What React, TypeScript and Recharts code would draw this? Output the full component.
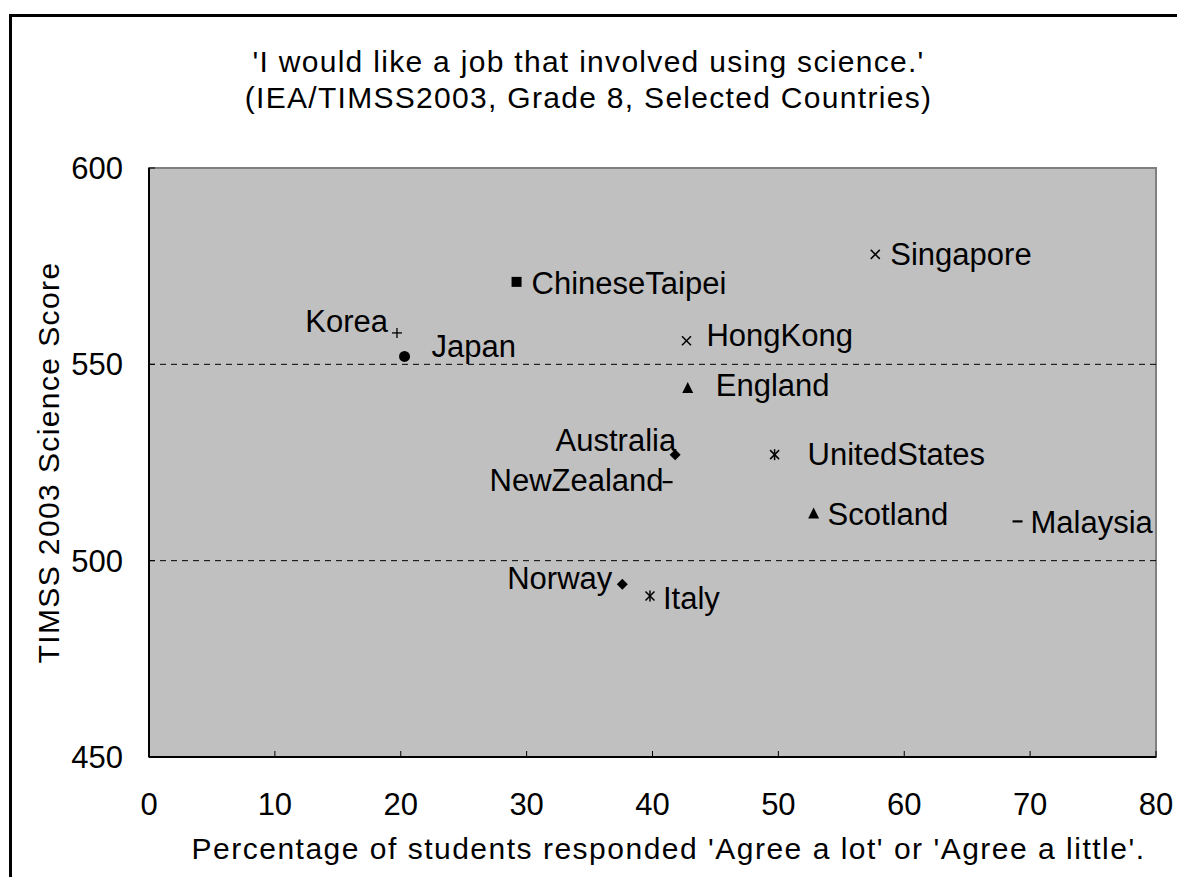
import { Label, ReferenceArea, ReferenceLine, Scatter, ScatterChart, XAxis, YAxis } from "recharts";

const FONT = "'Liberation Sans', Arial, sans-serif";

// TIMSS 2003, grade 8
const countries = [
  "Korea", "Japan", "ChineseTaipei", "HongKong", "England", "Singapore", "Australia",
  "NewZealand", "UnitedStates", "Scotland", "Malaysia", "Norway", "Italy",
];
const agreePct = [19.7, 20.3, 29.2, 42.7, 42.8, 57.7, 41.8, 41.2, 49.7, 52.8, 69.0, 37.6, 39.8];
const scienceScore = [558, 552, 571, 556, 544, 578, 527, 520, 527, 512, 510, 494, 491];
const markers = [
  "plus", "circle", "square", "cross", "triangle", "cross", "diamond",
  "dash", "star", "triangle", "dash", "diamond", "star",
];

const xTicks = [0, 10, 20, 30, 40, 50, 60, 70, 80];
const yTicks = [450, 500, 550, 600];
const gridValues = [500, 550];

// label placement relative to the marker: anchor side, dx, dy
const labelPlacement: Record<string, [string, number, number]> = {
  Korea: ["end", -9, -11],
  Japan: ["start", 27, -10],
  ChineseTaipei: ["start", 15, 2],
  HongKong: ["start", 20, -5],
  England: ["start", 28, -2],
  Singapore: ["start", 15, 0],
  Australia: ["end", 1, -14],
  NewZealand: ["end", -4, -2],
  UnitedStates: ["start", 33, 0],
  Scotland: ["start", 14, 1],
  Malaysia: ["start", 13, 1],
  Norway: ["end", -10, -6],
  Italy: ["start", 13, 2],
};

const data = countries.map((name, i) => ({
  name,
  x: agreePct[i],
  y: scienceScore[i],
  marker: markers[i],
}));

function Marker({ kind, cx, cy }: { kind: string; cx: number; cy: number }) {
  const s = 5;
  switch (kind) {
    case "plus":
      return (
        <g stroke="#000" strokeWidth={1.3}>
          <line x1={cx - s} y1={cy} x2={cx + s} y2={cy} />
          <line x1={cx} y1={cy - s} x2={cx} y2={cy + s} />
        </g>
      );
    case "circle":
      return <circle cx={cx} cy={cy} r={5.5} fill="#000" />;
    case "square":
      return <rect x={cx - 5} y={cy - 5} width={10} height={10} fill="#000" />;
    case "cross":
      return (
        <g stroke="#000" strokeWidth={1.5}>
          <line x1={cx - 4.5} y1={cy - 4.5} x2={cx + 4.5} y2={cy + 4.5} />
          <line x1={cx - 4.5} y1={cy + 4.5} x2={cx + 4.5} y2={cy - 4.5} />
        </g>
      );
    case "triangle":
      return <path d={`M${cx},${cy - 6}L${cx + 5.5},${cy + 5}L${cx - 5.5},${cy + 5}Z`} fill="#000" />;
    case "diamond":
      return <path d={`M${cx},${cy - 5.5}L${cx + 5.5},${cy}L${cx},${cy + 5.5}L${cx - 5.5},${cy}Z`} fill="#000" />;
    case "dash":
      return <line x1={cx - 5} y1={cy} x2={cx + 5} y2={cy} stroke="#000" strokeWidth={2.2} />;
    case "star":
      return (
        <g stroke="#000" strokeWidth={1.5}>
          <line x1={cx - 4.5} y1={cy - 4.5} x2={cx + 4.5} y2={cy + 4.5} />
          <line x1={cx - 4.5} y1={cy + 4.5} x2={cx + 4.5} y2={cy - 4.5} />
          <line x1={cx} y1={cy - 5.5} x2={cx} y2={cy + 5.5} />
        </g>
      );
    default:
      return null;
  }
}

function CountryPoint(props: any) {
  const { cx, cy, payload } = props;
  const [anchor, dx, dy] = labelPlacement[payload.name];
  return (
    <g>
      <Marker kind={payload.marker} cx={cx} cy={cy} />
      <text
        x={cx + dx}
        y={cy + dy}
        textAnchor={anchor}
        dominantBaseline="central"
        fontSize={31}
        fontFamily={FONT}
        fill="#000"
      >
        {payload.name}
      </text>
    </g>
  );
}

const tickStyle = { fontSize: 31, fill: "#000", fontFamily: FONT };

export default function App() {
  return (
    <div style={{ position: "absolute", left: 0, top: 0, width: 1177, height: 877, overflow: "hidden", background: "#fff" }}>
      <div
        style={{
          position: "absolute",
          left: 9,
          top: 14,
          width: 1400,
          height: 1000,
          borderLeft: "3px solid #000",
          borderTop: "3px solid #000",
        }}
      />
      <div
        style={{
          position: "absolute",
          left: 0,
          top: 44,
          width: 1177,
          textAlign: "center",
          fontFamily: FONT,
          fontSize: 30,
          letterSpacing: 1.3,
          lineHeight: "36px",
          color: "#000",
        }}
      >
        <div>'I would like a job that involved using science.'</div>
        <div>(IEA/TIMSS2003, Grade 8, Selected Countries)</div>
      </div>
      <div style={{ position: "absolute", left: 0, top: 0 }}>
        <ScatterChart width={1177} height={877} margin={{ top: 168, right: 21, bottom: 0, left: 0 }}>
          <ReferenceArea x1={0} x2={80} y1={450} y2={600} fill="#C0C0C0" fillOpacity={1} stroke="#808080" strokeWidth={2} />
          {gridValues.map((v) => (
            <ReferenceLine key={v} y={v} stroke="#000" strokeDasharray="6 5" strokeWidth={1} />
          ))}
          <XAxis
            type="number"
            dataKey="x"
            domain={[0, 80]}
            ticks={xTicks}
            height={120}
            tick={tickStyle}
            tickSize={-6}
            tickMargin={42}
            axisLine={{ stroke: "#000", strokeWidth: 2 }}
            tickLine={{ stroke: "#000" }}
          >
            <Label
              value="Percentage of students responded 'Agree a lot' or 'Agree a little'."
              position="insideBottom"
              offset={18}
              dx={16}
              style={{ fontSize: 30, letterSpacing: 1.5, fill: "#000", fontFamily: FONT }}
            />
          </XAxis>
          <YAxis
            type="number"
            dataKey="y"
            domain={[450, 600]}
            ticks={yTicks}
            width={149}
            tick={tickStyle}
            tickSize={-6}
            tickMargin={32}
            axisLine={{ stroke: "#000", strokeWidth: 2 }}
            tickLine={{ stroke: "#000" }}
          >
            <Label
              value="TIMSS 2003 Science Score"
              angle={-90}
              position="insideLeft"
              offset={48}
              style={{ fontSize: 30, letterSpacing: 1.4, fill: "#000", fontFamily: FONT, textAnchor: "middle" }}
            />
          </YAxis>
          <Scatter data={data} shape={CountryPoint} isAnimationActive={false} />
        </ScatterChart>
      </div>
    </div>
  );
}
